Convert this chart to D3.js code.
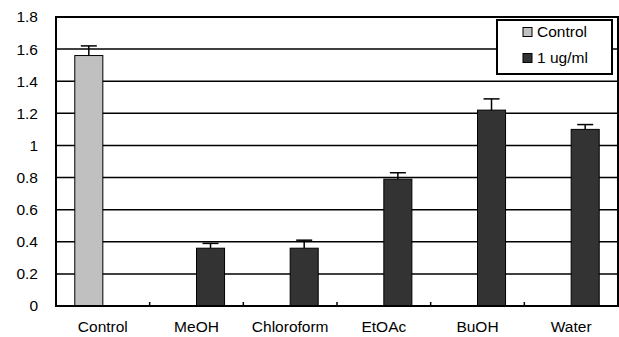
<!DOCTYPE html>
<html>
<head>
<meta charset="utf-8">
<script src="https://cdn.jsdelivr.net/npm/d3@7"></script>
<style>
  html, body { margin: 0; padding: 0; background: #fff; overflow: hidden; }
  svg { display: block; font-family: "Liberation Sans", Arial, sans-serif; }
</style>
</head>
<body>
<svg id="chart" width="619" height="337"></svg>
<script>
// Extract groups along the x axis
const categories = ["Control", "MeOH", "Chloroform", "EtOAc", "BuOH", "Water"];
const seriesNames = ["Control", "1 ug/ml"];
const controlValues = [1.56, null, null, null, null, null];
const controlErrors = [0.06, null, null, null, null, null];
const treatedValues = [null, 0.36, 0.36, 0.79, 1.22, 1.10];
const treatedErrors = [null, 0.03, 0.05, 0.04, 0.07, 0.03];
const yTicks = [0, 0.2, 0.4, 0.6, 0.8, 1, 1.2, 1.4, 1.6, 1.8];
const seriesColors = ["#c0c0c0", "#333333"];

const svg = d3.select("#chart");
const margin = { left: 56, right: 1, top: 17, bottom: 31 };
const W = 619, H = 337;
const x0 = margin.left, x1 = W - margin.right;
const y0 = H - margin.bottom, y1 = margin.top;
const fontSize = 15.5;

const x = d3.scaleBand().domain(categories).range([x0, x1]).padding(0);
const xs = d3.scaleBand().domain(seriesNames).range([0, x.bandwidth()])
  .paddingInner(0).paddingOuter(0.67);
const y = d3.scaleLinear().domain([0, 1.8]).range([y0, y1]);

// horizontal gridlines
svg.append("g").selectAll("line").data(yTicks.filter(d => d > 0 && d < 1.8)).join("line")
  .attr("x1", x0).attr("x2", x1)
  .attr("y1", d => y(d)).attr("y2", d => y(d))
  .attr("stroke", "#000").attr("stroke-width", 1.5);

// y axis labels
const yAxis = d3.axisLeft(y).tickValues(yTicks).tickSize(0).tickPadding(18)
  .tickFormat(d => d3.format("~g")(d));
const gy = svg.append("g").attr("transform", `translate(${x0},0)`).call(yAxis);
gy.select(".domain").remove();
gy.selectAll("text").attr("font-size", fontSize).attr("fill", "#000")
  .attr("font-family", "Liberation Sans, Arial, sans-serif");

// rows of bars per series
const rows = [
  { name: seriesNames[0], values: controlValues, errors: controlErrors, color: seriesColors[0] },
  { name: seriesNames[1], values: treatedValues, errors: treatedErrors, color: seriesColors[1] }
];
const bars = [];
rows.forEach(r => categories.forEach((c, i) => {
  if (r.values[i] != null) bars.push({ cat: c, series: r.name, v: r.values[i], e: r.errors[i], color: r.color });
}));

svg.append("g").selectAll("rect").data(bars).join("rect")
  .attr("x", d => x(d.cat) + xs(d.series))
  .attr("width", xs.bandwidth())
  .attr("y", d => y(d.v))
  .attr("height", d => y(0) - y(d.v))
  .attr("fill", d => d.color)
  .attr("stroke", "#000").attr("stroke-width", 1);

// plus-direction error bars
const eb = svg.append("g").attr("stroke", "#000").attr("stroke-width", 1.5);
bars.forEach(d => {
  const cx = x(d.cat) + xs(d.series) + xs.bandwidth() / 2;
  eb.append("line").attr("x1", cx).attr("x2", cx).attr("y1", y(d.v)).attr("y2", y(d.v + d.e));
  eb.append("line").attr("x1", cx - 8).attr("x2", cx + 8).attr("y1", y(d.v + d.e)).attr("y2", y(d.v + d.e));
});

// plot frame
svg.append("rect").attr("x", x0).attr("y", y1).attr("width", x1 - x0).attr("height", y0 - y1)
  .attr("fill", "none").attr("stroke", "#000").attr("stroke-width", 2);

// x axis with inward tick marks at category boundaries
const xAxis = d3.axisBottom(x).tickSize(0).tickPadding(15);
const gx = svg.append("g").attr("transform", `translate(0,${y0})`).call(xAxis);
gx.select(".domain").remove();
gx.selectAll("text").attr("font-size", fontSize).attr("fill", "#000")
  .attr("font-family", "Liberation Sans, Arial, sans-serif");
svg.append("g").selectAll("line").data(categories.slice(1)).join("line")
  .attr("x1", d => x(d)).attr("x2", d => x(d))
  .attr("y1", y0).attr("y2", y0 - 4)
  .attr("stroke", "#000").attr("stroke-width", 1.5);

// legend
const lg = svg.append("g").attr("transform", "translate(497,20)");
lg.append("rect").attr("width", 115).attr("height", 54)
  .attr("fill", "#fff").attr("stroke", "#000").attr("stroke-width", 2);
rows.forEach((r, i) => {
  const cy = 12 + i * 26;
  lg.append("rect").attr("x", 26).attr("y", cy - 4.5).attr("width", 9).attr("height", 9)
    .attr("fill", r.color).attr("stroke", "#000").attr("stroke-width", 1);
  lg.append("text").attr("x", 40).attr("y", cy).attr("dy", "0.35em")
    .attr("font-size", fontSize).text(r.name);
});
</script>
</body>
</html>
